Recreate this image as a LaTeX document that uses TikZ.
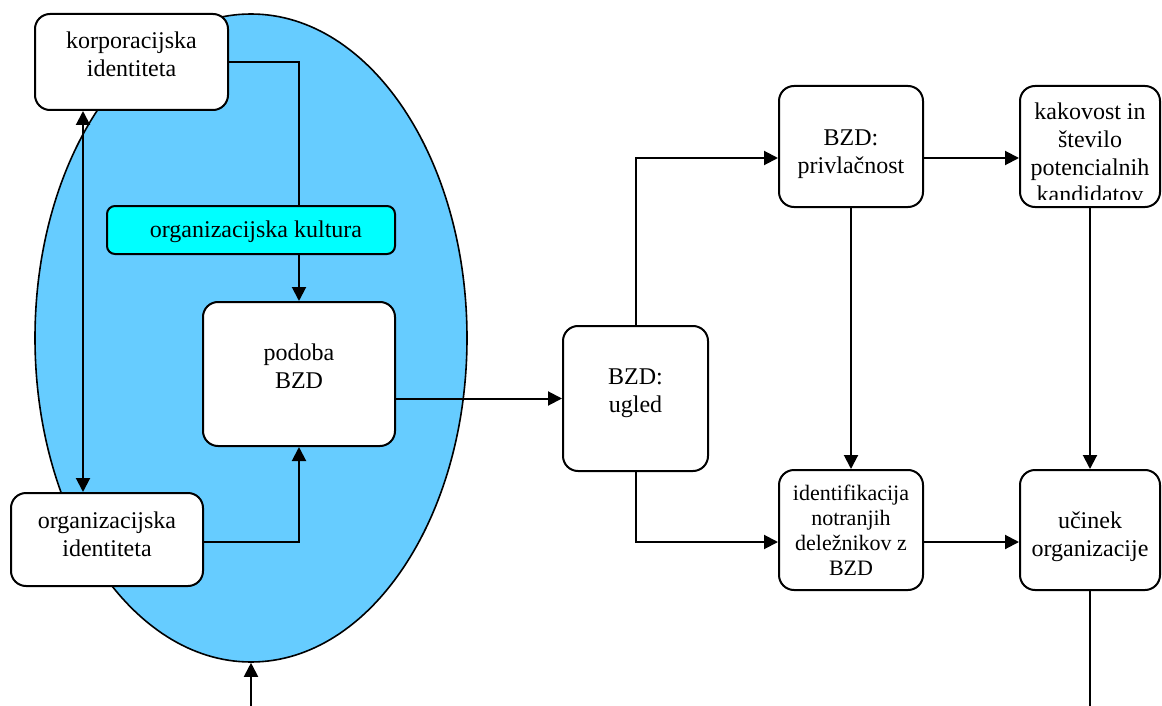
\documentclass[tikz,border=0pt]{standalone}
\usepackage{fontspec}
\setmainfont{Liberation Serif}
\usetikzlibrary{arrows.meta,shapes.geometric,calc}
\definecolor{ellblue}{HTML}{66CCFF}
\definecolor{kultcyan}{HTML}{00FFFF}
\begin{document}
\begin{tikzpicture}[x=1pt,y=-1pt,
  box/.style={draw,line width=2pt,rounded corners=15pt,fill=white,inner sep=0pt},
  txt/.style={align=center,inner sep=0pt,font=\fontsize{24}{27.6}\selectfont},
  smalltxt/.style={align=center,inner sep=0pt,font=\fontsize{22}{25}\selectfont},
  conn/.style={line width=2pt},
  arr/.style={conn,-{Triangle[length=14pt,width=14pt]}},
  darr/.style={conn,{Triangle[length=14pt,width=14pt]}-{Triangle[length=14pt,width=14pt]}}]
\useasboundingbox (0,0) rectangle (1162,706);
% ellipse
\node[ellipse,draw,line width=1.6pt,fill=ellblue,minimum width=432pt,minimum height=648pt,inner sep=0pt] (ell) at (251,338) {};
% boxes
\node[box,minimum width=193pt,minimum height=96pt] (korp) at (131.5,62) {};
\node[txt] (korpt) at (131.5,54) {korporacijska\\identiteta};
\node[box,fill=kultcyan,rounded corners=8pt,minimum width=288pt,minimum height=48pt] (kult) at (251,230) {};
\node[txt] (kultt) at (256,232) {organizacijska kultura};
\node[box,minimum width=192pt,minimum height=144pt] (pod) at (299,374) {};
\node[txt] (podt) at (299,366) {podoba\\BZD};
\node[box,minimum width=192pt,minimum height=93pt] (orgid) at (107,539.5) {};
\node[txt] (orgidt) at (107,534) {organizacijska\\identiteta};
\node[box,minimum width=145pt,minimum height=145pt] (ugled) at (635.5,398.5) {};
\node[txt] (uglt) at (635.5,393) {BZD:\\ugled};
\node[box,minimum width=144pt,minimum height=121pt] (privl) at (851,146.5) {};
\node[txt] (privlt) at (851,154) {BZD:\\privlačnost};
\node[box,minimum width=140pt,minimum height=121pt] (kak) at (1090,146.5) {};
\begin{scope}
  \clip (1010,80) rectangle (1162,199);
  \node[txt] (kakt) at (1090,153) {kakovost in\\število\\potencialnih\\kandidatov};
\end{scope}
\node[box,minimum width=144pt,minimum height=120pt] (ident) at (851,530) {};
\node[smalltxt] (identt) at (851,530) {identifikacija\\notranjih\\deležnikov z\\BZD};
\node[box,minimum width=140pt,minimum height=120pt] (ucin) at (1090,530) {};
\node[txt] (ucint) at (1090,537) {učinek\\organizacije};
% helper coordinates
\coordinate (dx) at (83,0);
\coordinate (rowA) at (0,158);
\coordinate (rowB) at (0,542);
\coordinate (bot1) at (251,706);
\coordinate (bot2) at (1090,706);
% connectors
\draw[conn] (korp.east) -| (pod.north |- kult.north);
\draw[arr] (pod.north |- kult.south) -- (pod.north);
\draw[darr] (korp.south -| dx) -- (orgid.north -| dx);
\draw[arr] (orgid.east |- rowB) -| (pod.south);
\draw[arr] (pod.east |- ugled.west) -- (ugled.west);
\draw[arr] (bot1) -- (ell.south);
\draw[arr] (ugled.north) |- (privl.west |- rowA);
\draw[arr] (privl.east |- rowA) -- (kak.west |- rowA);
\draw[arr] (privl.south) -- (ident.north);
\draw[arr] (ugled.south) |- (ident.west |- rowB);
\draw[arr] (ident.east |- rowB) -- (ucin.west |- rowB);
\draw[arr] (kak.south) -- (ucin.north);
\draw[conn] (ucin.south) -- (bot2);
\end{tikzpicture}
\end{document}
